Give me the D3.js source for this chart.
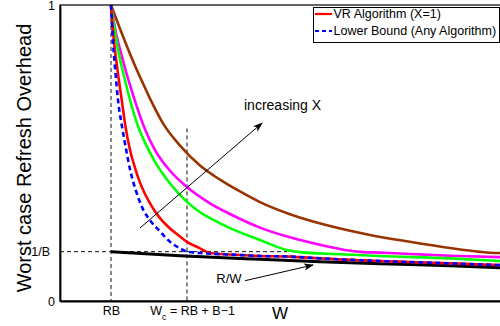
<!DOCTYPE html>
<html>
<head>
<meta charset="utf-8">
<script src="https://cdn.jsdelivr.net/npm/d3@7"></script>
<style>
  html, body { margin: 0; padding: 0; background: #fff; }
  text { font-family: "Liberation Sans", Arial, Helvetica, sans-serif; fill: #000; }
</style>
</head>
<body>
<script>
// W axis in arbitrary units, overhead on [0, 1]
const RB = 5.1;
const Wc = 12.7;
const invB = 1 / 6;

const xTickValues = [RB, Wc];
const xTickLabels = ["RB", "Wc = RB + B\u22121"];
const yTickValues = [0, invB, 1];
const yTickLabels = ["0", "1/B", "1"];

// curves, [W, overhead]
const lowerBound = [[5.1,1.0],[5.25,0.9],[5.5,0.79],[5.8,0.68],[6.25,0.58],[6.65,0.505],[7.0,0.445],[7.6,0.372],[8.3,0.31],[9.0,0.273],[10,0.235],[11,0.2],[12,0.178],[12.7,0.1667],[14,0.162],[17,0.157],[20,0.152],[23,0.15],[26,0.144],[32,0.135],[39,0.127],[44.1,0.121]];
const vrX1 = [[5.1,1.0],[5.33,0.9],[5.67,0.8],[6.17,0.68],[6.5,0.6],[7.0,0.51],[7.5,0.45],[8.0,0.4],[9.0,0.33],[10,0.28],[11,0.245],[12,0.218],[12.7,0.2],[14,0.178],[15,0.162],[17,0.157],[20,0.152],[23,0.15],[26,0.144],[32,0.135],[39,0.127],[44.1,0.121]];
const vrX2 = [[5.1,1.0],[5.4,0.93],[5.8,0.85],[6.4,0.76],[7.0,0.68],[7.7,0.6],[8.5,0.535],[9.5,0.47],[11,0.397],[12.7,0.335],[14,0.3],[15.3,0.275],[17,0.246],[20,0.206],[22.7,0.172],[24,0.165],[28,0.158],[32,0.152],[39,0.144],[44.1,0.135]];
const vrX3 = [[5.1,1.0],[5.6,0.905],[6.2,0.825],[6.9,0.74],[7.6,0.665],[8.5,0.58],[9.5,0.51],[11,0.44],[12.7,0.385],[15,0.33],[17,0.294],[20,0.248],[23,0.215],[26,0.19],[29,0.17],[30,0.166],[32,0.1635],[35,0.159],[39,0.153],[44.1,0.148]];
const vrX4 = [[5.1,1.0],[6.0,0.92],[6.7,0.86],[7.5,0.795],[8.3,0.735],[9.2,0.67],[10.3,0.6],[12,0.525],[14,0.458],[16,0.41],[18,0.37],[20,0.334],[23,0.293],[27,0.253],[31,0.223],[35,0.2],[39,0.179],[42,0.166],[43,0.163],[44.1,0.162]];
const rOverW = [[5.1,0.1667],[12,0.153],[20,0.141],[26,0.133],[32,0.126],[39,0.119],[44.1,0.112]];

const series = [
  { data: rOverW, color: "#000000", width: 3 },
  { data: vrX4, color: "#993300", width: 2.6 },
  { data: vrX3, color: "#ff00ff", width: 2.6 },
  { data: vrX2, color: "#00ff00", width: 2.6 },
  { data: vrX1, color: "#ff0000", width: 2.6 },
  { data: lowerBound, color: "#0000ff", width: 2.6, dash: "5,3.5" }
];

const width = 500, height = 326;
const svg = d3.select("body").append("svg")
  .attr("width", width)
  .attr("height", height);

const x = d3.scaleLinear().domain([0, 44.1]).range([60, 501]);
const y = d3.scaleLinear().domain([0, 1]).range([301, 5]);

const defs = svg.append("defs");
defs.append("clipPath").attr("id", "plot")
  .append("rect").attr("x", 60).attr("y", 4).attr("width", 441).attr("height", 297);
defs.append("marker")
  .attr("id", "head")
  .attr("viewBox", "0 -4 10 8")
  .attr("refX", 9).attr("refY", 0)
  .attr("markerWidth", 10).attr("markerHeight", 8)
  .attr("markerUnits", "userSpaceOnUse")
  .attr("orient", "auto")
  .append("path")
  .attr("d", "M0,-3.5L10,0L0,3.5L2.5,0Z")
  .attr("fill", "#000");

// dashed guide lines
const guides = svg.append("g")
  .attr("stroke", "#111")
  .attr("stroke-width", 1)
  .attr("stroke-dasharray", "4,3");
guides.append("line")
  .attr("x1", x(RB)).attr("x2", x(RB))
  .attr("y1", y(1)).attr("y2", y(0));
guides.append("line")
  .attr("x1", x(Wc)).attr("x2", x(Wc))
  .attr("y1", y(0.583)).attr("y2", y(0));
guides.append("line")
  .attr("x1", x(0)).attr("x2", x(22.7))
  .attr("y1", y(invB)).attr("y2", y(invB));

// curves
const line = d3.line()
  .x(d => x(d[0]))
  .y(d => y(d[1]))
  .curve(d3.curveMonotoneX);

const plot = svg.append("g").attr("clip-path", "url(#plot)");
series.forEach(s => {
  plot.append("path")
    .datum(s.data)
    .attr("fill", "none")
    .attr("stroke", s.color)
    .attr("stroke-width", s.width)
    .attr("stroke-dasharray", s.dash || null)
    .attr("d", line);
});

// frame
svg.append("rect")
  .attr("x", 60).attr("y", 5)
  .attr("width", 441).attr("height", 296)
  .attr("fill", "none")
  .attr("stroke", "#000")
  .attr("stroke-width", 1.2);

// axes
const xAxis = svg.append("g")
  .attr("transform", "translate(0,301)")
  .call(d3.axisBottom(x).tickValues(xTickValues).tickSize(0).tickPadding(5)
    .tickFormat((d, i) => xTickLabels[i]));
xAxis.select(".domain").attr("stroke", "#000").attr("stroke-width", 1.8);
xAxis.selectAll("text").attr("font-size", 12.5).attr("fill", "#000");
// subscript on W_c
xAxis.selectAll(".tick text").filter((d, i) => i === 1).each(function() {
  const t = d3.select(this).text("").attr("dx", 5);
  t.append("tspan").text("W");
  t.append("tspan").text("c").attr("font-size", 9).attr("dy", 5);
  t.append("tspan").text(" = RB + B\u22121").attr("dy", -5);
});

const yAxis = svg.append("g")
  .attr("transform", "translate(60,0)")
  .call(d3.axisLeft(y).tickValues(yTickValues).tickSize(0).tickPadding(5)
    .tickFormat((d, i) => yTickLabels[i]));
yAxis.select(".domain").attr("stroke", "#000").attr("stroke-width", 1.8);
yAxis.selectAll("text").attr("font-size", 12.5).attr("fill", "#000");
yAxis.selectAll(".tick text").filter(d => d === invB).attr("dx", -5);

// axis titles
svg.append("text")
  .attr("transform", "translate(31,158) rotate(-90)")
  .attr("text-anchor", "middle")
  .attr("font-size", 20)
  .text("Worst case Refresh Overhead");
svg.append("text")
  .attr("x", x(22)).attr("y", 319)
  .attr("text-anchor", "middle")
  .attr("font-size", 17)
  .text("W");

// annotations
svg.append("line")
  .attr("x1", x(8)).attr("y1", y(0.2466))
  .attr("x2", x(20.2)).attr("y2", y(0.601))
  .attr("stroke", "#000").attr("stroke-width", 1)
  .attr("marker-end", "url(#head)");
svg.append("text")
  .attr("x", x(18.4)).attr("y", y(0.645))
  .attr("font-size", 14)
  .text("increasing X");

svg.append("line")
  .attr("x1", x(18.5)).attr("y1", y(0.0686))
  .attr("x2", x(25.3)).attr("y2", y(0.1216))
  .attr("stroke", "#000").attr("stroke-width", 1)
  .attr("marker-end", "url(#head)");
svg.append("text")
  .attr("x", x(16.9)).attr("y", y(0.06))
  .attr("text-anchor", "middle")
  .attr("font-size", 13)
  .text("R/W");

// legend
const legend = svg.append("g");
legend.append("rect")
  .attr("x", 313.5).attr("y", 7.5)
  .attr("width", 186).attr("height", 35)
  .attr("fill", "#fff")
  .attr("stroke", "#000")
  .attr("stroke-width", 1);
const legendItems = [
  { label: "VR Algorithm (X=1)", color: "#ff0000", dash: null, cy: 14 },
  { label: "Lower Bound (Any Algorithm)", color: "#0000ff", dash: "4,3", cy: 31 }
];
legendItems.forEach(item => {
  legend.append("line")
    .attr("x1", 315).attr("x2", 332)
    .attr("y1", item.cy).attr("y2", item.cy)
    .attr("stroke", item.color)
    .attr("stroke-width", 2.2)
    .attr("stroke-dasharray", item.dash);
  legend.append("text")
    .attr("x", 333.5).attr("y", item.cy)
    .attr("dy", "0.35em")
    .attr("font-size", 12.5)
    .text(item.label);
});
</script>
</body>
</html>
